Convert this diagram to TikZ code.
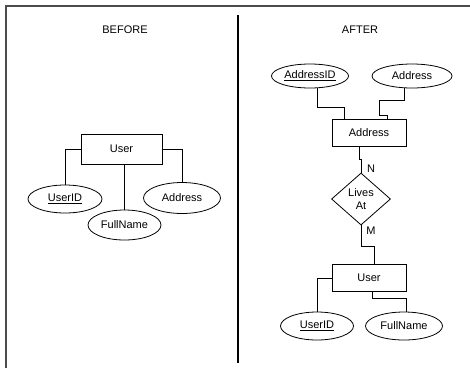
\documentclass[tikz,border=0pt]{standalone}
\usepackage{fontspec}
\setmainfont{Liberation Sans}
\usepackage{tikz}
\usetikzlibrary{shapes, positioning, calc}

\tikzset{
    entity/.style={draw=black, line width=0.8pt, rectangle, inner sep=0pt, minimum width=74pt, minimum height=27pt},
    attr/.style={draw=black, line width=0.8pt, ellipse, inner sep=0pt, minimum height=28pt},
    rel/.style={draw=black, line width=0.8pt, diamond, inner sep=0pt, align=center, minimum width=59pt, minimum height=52pt},
    link/.style={draw=black, line width=0.8pt},
    lab/.style={inner sep=0pt}
}

\begin{document}
\begin{tikzpicture}[x=1pt, y=-1pt, font=\fontsize{11}{13}\selectfont]
        \useasboundingbox (0,0) rectangle (470,368);

        % outer frame and divider
        \draw[line width=2pt, black!70] (6,368) -- (6,6) -- (470,6);
        \draw[line width=1.2pt, black] (238,15) -- (238,363);

        % Before
        \node[lab] (before) at (125,30) {BEFORE};
        \node[entity, minimum width=81pt, minimum height=30pt] (bUser) at (121.5,149) {User};
        \node[attr, minimum width=74pt] (bUserID) at (65,199) {\underline{UserID}};
        \node[attr, minimum width=73pt, minimum height=30pt] (bFull) at (124.5,225) {FullName};
        \node[attr, minimum width=77pt, minimum height=31pt] (bAddr) at (182,198) {Address};

        \draw[link] (bUserID.north) |- (bUser.west);
        \draw[link] (bAddr.north) |- (bUser.east);
        \draw[link] (bFull.north) -- (bFull.north |- bUser.south);

        % After
        \node[lab] (after) at (360,30) {AFTER};
        \node[attr, minimum width=77pt, minimum height=24pt] (aAddrID) at (310,76) {\underline{AddressID}};
        \node[attr, minimum width=80pt, minimum height=24pt] (aAddrAttr) at (412,76) {Address};
        \node[entity] (aAddr) at (369,133) {Address};
        \node[rel] (livesAt) at (361,199) {Lives\\At};
        \node[entity] (aUser) at (369,278) {User};
        \node[attr, minimum width=73pt] (aUserID) at (317,326) {\underline{UserID}};
        \node[attr, minimum width=77pt] (aFull) at (404,326) {FullName};

        \draw[link] ([xshift=7.7pt]aAddrID.south) -- ++(0,18.7) -| ([xshift=-24.7pt]aAddr.north);
        \draw[link] ([xshift=-8pt]aAddrAttr.south) -- ++(0,12) -| ++(-25,14.5) -| ([xshift=18pt]aAddr.north);
        \draw[link] ([xshift=-10pt]aAddr.south) -- ++(0,12.5) -| (livesAt.north);
        \draw[link] (livesAt.south) -- ++(0,21) -| ([xshift=5.3pt]aUser.north);
        \draw[link] (aUserID.north) |- (aUser.west);
        \draw[link] ([xshift=3pt]aUser.south) -- ++(0,6.8) -| ([xshift=2pt]aFull.north);

        \node[lab] (nLab) at (371,169) {N};
        \node[lab] (mLab) at (371,231) {M};
    \end{tikzpicture}
\end{document}
